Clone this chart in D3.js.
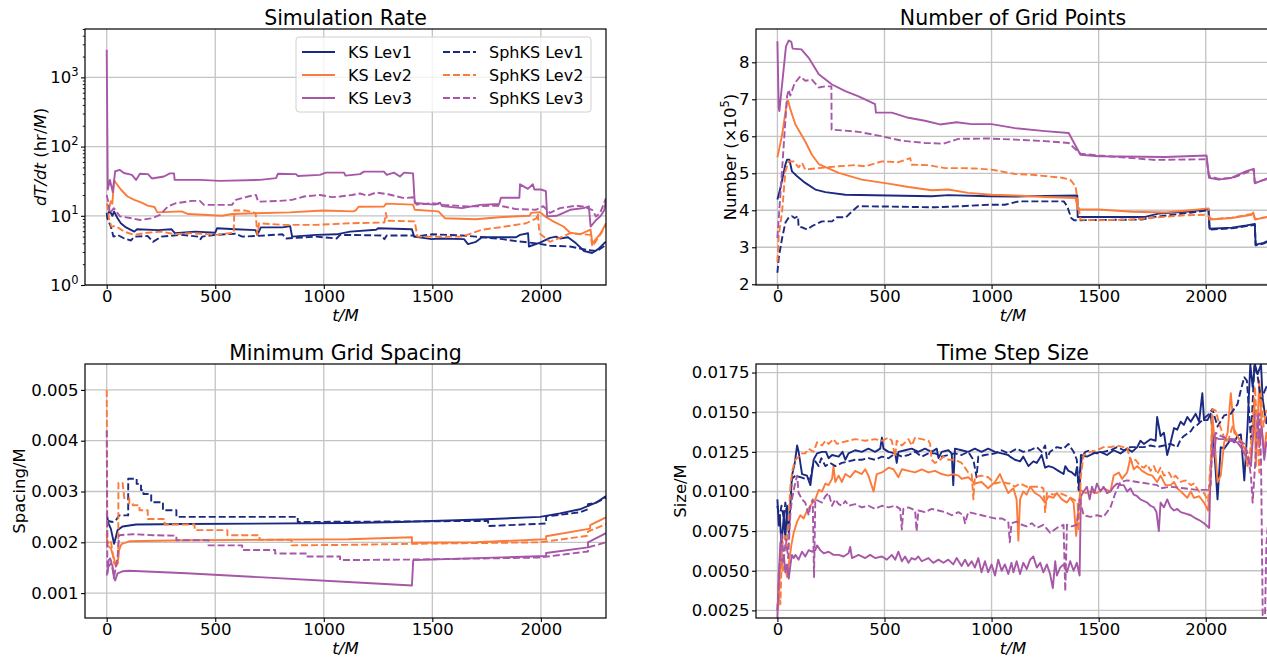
<!DOCTYPE html>
<html>
<head>
<meta charset="utf-8">
<script src="https://cdn.jsdelivr.net/npm/d3@7"></script>
<style>
  body { margin: 0; background: #ffffff; }
  svg { display: block; font-family: "DejaVu Sans", sans-serif; }
</style>
</head>
<body>
<div id="chart-container"></div>
<script>
// Series names (legend order) and colours per level
const seriesNames = ["KS Lev1", "KS Lev2", "KS Lev3", "SphKS Lev1", "SphKS Lev2", "SphKS Lev3"];
const levelColors = ["#1b2a80", "#fc7b3b", "#a757a7"];

// Tick values
const xTicks = [0, 500, 1000, 1500, 2000];
const rateTicks = [1, 10, 100, 1000];
const rateMinorTicks = [2, 3, 4, 5, 6, 7, 8, 9, 20, 30, 40, 50, 60, 70, 80, 90,
  200, 300, 400, 500, 600, 700, 800, 900, 2000, 3000, 4000, 5000];
const gridTicks = [2, 3, 4, 5, 6, 7, 8];
const spacingTicks = [0.001, 0.002, 0.003, 0.004, 0.005];
const stepTicks = [0.0025, 0.005, 0.0075, 0.01, 0.0125, 0.015, 0.0175];

// ---- Simulation Rate (hr/M) ----
const rateKS1 = [[0,10],[3,10],[11,11.5],[19,11],[26,10],[34,11.5],[50,9.2],[65,7.8],[89,6.8],[127,5.9],[140,6.4],[236,6.2],[298,6.4],[314,5.6],[407,5.9],[500,5.7],[508,6.6],[593,6.4],[686,6.2],[694,5.3],[710,6.8],[810,6.8],[845,7.1],[854,5],[966,5.3],[1059,5.4],[1121,5.9],[1241,6.3],[1250,6.6],[1406,6.4],[1416,5],[1497,4.6],[1535,4.7],[1646,4.6],[1664,3.9],[1701,4.2],[1729,4.9],[1886,4.9],[1904,5.3],[1941,5.6],[1945,3.6],[1996,4.1],[2042,4.8],[2070,5],[2088,4.7],[2125,4.9],[2162,4],[2199,3.1],[2236,2.9],[2264,3.3],[2291,4],[2300,4.2]];
const rateKS2 = [[0,15],[3,14.5],[11,12.9],[19,16.2],[26,15],[34,33],[42,30],[65,24],[96,19],[127,17],[158,15.6],[189,14],[220,13.4],[233,11.2],[345,11.6],[376,10.6],[531,10],[578,10.6],[686,10.9],[842,11.2],[997,11.9],[1137,11.6],[1150,12.2],[1160,13.5],[1277,13.6],[1287,15],[1411,14.5],[1419,12.2],[1528,11.6],[1559,9.2],[1699,8.9],[1824,9.6],[1948,10],[1955,11],[1996,11.3],[2023,9.6],[2057,8.3],[2104,7],[2135,5.7],[2180,5.4],[2229,6.3],[2237,4],[2276,5.6],[2300,7.8]];
const rateKS3 = [[0,2500],[5,24],[15,33],[28,22],[39,44],[61,46],[79,41.5],[116,39],[135,33],[153,40.5],[190,40],[208,34.6],[264,37],[291,41],[310,41],[313,33],[429,33],[522,32],[706,33],[780,35],[789,40.5],[872,40],[881,37.5],[982,39],[1010,42],[1093,42],[1100,38],[1167,40],[1185,43.5],[1277,43.5],[1290,39],[1323,42],[1351,37],[1370,42],[1411,41],[1419,15.3],[1512,14.5],[1535,15.5],[1545,13.8],[1637,12.9],[1720,14.4],[1808,14.8],[1816,18.2],[1901,18.2],[1904,28.5],[1940,24.5],[1963,28.5],[1970,24],[2000,24],[2023,22.7],[2029,9.8],[2073,10],[2135,12.2],[2197,12.9],[2221,13.7],[2229,7],[2252,8.5],[2276,10],[2292,12],[2300,17]];
const rateSph1 = [[0,11],[3,9.2],[19,7],[31,5],[50,5.3],[81,4.7],[112,4.4],[127,5],[189,5.1],[213,4.2],[252,5],[345,5.3],[422,5],[432,4.6],[440,5],[500,5.3],[593,5.5],[624,5],[686,5.1],[810,5.4],[826,4.7],[966,5],[1059,4.7],[1075,5.3],[1264,5.2],[1279,4.6],[1290,5.2],[1411,5.2],[1420,5],[1500,5.4],[1637,5.2],[1700,5],[1824,4.6],[1886,4.3],[1980,4],[2042,3.7],[2135,3.6],[2213,3.2],[2260,3.1],[2300,3.8]];
const rateSph2 = [[0,14],[3,14.5],[11,8.7],[22,7],[42,7.1],[81,5.9],[127,5.3],[189,5.7],[252,5.9],[314,5.4],[376,5.6],[438,5.5],[500,5.3],[585,5.7],[588,12],[640,11.9],[686,11],[694,5.3],[702,7.8],[810,7.4],[966,7.4],[1121,7.8],[1279,8],[1286,11],[1292,8.5],[1419,8.3],[1431,5],[1637,5],[1730,6.3],[1824,6.9],[1933,7.8],[1980,9.2],[1986,10.9],[1993,5.6],[2042,4.2],[2135,5.6],[2229,5.3],[2237,3.6],[2276,5.5],[2300,7.4]];
const rateSph3 = [[0,20],[5,17],[15,10.9],[33,12.9],[61,9.8],[116,9.2],[153,8.7],[208,9.2],[245,10.3],[282,13.6],[319,15.2],[393,16.4],[429,16.4],[448,14.4],[577,14.4],[595,17],[651,19],[688,20],[697,16],[798,16.4],[853,17],[909,19],[982,20],[1038,18.6],[1075,19],[1130,20],[1167,21],[1201,19.5],[1241,21.7],[1296,20.5],[1370,18],[1411,18.5],[1427,14.5],[1499,15.2],[1554,14.4],[1637,13.8],[1664,13.6],[1794,14],[1830,13.6],[1886,12.5],[1977,12.2],[2011,13.8],[2042,11],[2088,12.9],[2162,14],[2197,13.5],[2236,12.2],[2254,9.8],[2273,11],[2300,18]];

// ---- Number of Grid Points (x 1e5) ----
const gridKS1 = [[0,4.29],[14,4.6],[37,5.23],[45,5.37],[56,5.37],[68,5.05],[92,4.92],[130,4.74],[177,4.56],[224,4.49],[317,4.42],[519,4.4],[720,4.38],[798,4.41],[985,4.38],[1109,4.37],[1250,4.39],[1400,4.4],[1402,3.82],[1717,3.82],[1779,3.91],[1935,3.97],[2013,4.03],[2018,3.5],[2122,3.53],[2190,3.59],[2229,3.63],[2233,3.07],[2270,3.12],[2300,3.2]];
const gridKS2 = [[0,5.43],[22,6.04],[45,6.95],[50,6.96],[61,6.72],[84,6.32],[130,5.86],[161,5.5],[193,5.25],[286,5.01],[394,4.83],[519,4.72],[612,4.63],[720,4.54],[798,4.56],[891,4.47],[1000,4.42],[1109,4.4],[1250,4.36],[1392,4.33],[1403,4.02],[1500,4.02],[1655,3.96],[1811,3.94],[1966,4.02],[2013,4.05],[2018,3.75],[2122,3.79],[2215,3.88],[2222,3.94],[2230,3.75],[2300,3.83]];
const gridKS3 = [[0,8.57],[6,6.77],[9,6.68],[40,8.43],[53,8.59],[65,8.55],[71,8.37],[112,8.35],[146,8.12],[193,7.68],[255,7.4],[317,7.22],[379,7.08],[456,6.87],[460,6.64],[534,6.64],[612,6.5],[689,6.42],[759,6.32],[837,6.38],[907,6.33],[1000,6.33],[1109,6.22],[1250,6.14],[1360,6.09],[1415,5.5],[1500,5.46],[1811,5.44],[2004,5.48],[2015,4.88],[2060,4.83],[2122,4.88],[2190,5.06],[2224,5.12],[2229,4.73],[2287,4.86],[2300,4.9]];
const gridSph1 = [[0,2.31],[6,2.71],[22,3.25],[37,3.66],[53,3.81],[68,3.84],[81,3.79],[96,3.84],[99,3.55],[115,3.54],[138,3.48],[161,3.57],[208,3.7],[255,3.7],[278,3.81],[320,3.81],[348,3.97],[376,4.11],[519,4.1],[736,4.08],[860,4.11],[985,4.15],[1062,4.15],[1127,4.24],[1337,4.24],[1353,4.11],[1372,3.79],[1385,3.73],[1701,3.75],[1763,3.82],[1935,3.94],[2013,4],[2018,3.48],[2122,3.51],[2190,3.57],[2229,3.61],[2233,3.05],[2270,3.1],[2300,3.18]];
const gridSph2 = [[0,2.6],[6,3.3],[22,3.97],[37,5.05],[53,5.32],[76,5.32],[99,5.16],[115,5.28],[130,5.1],[193,5.14],[286,5.19],[363,5.22],[410,5.19],[488,5.32],[565,5.3],[620,5.41],[627,5.23],[705,5.22],[783,5.14],[860,5.14],[922,5.13],[1000,5.1],[1109,4.98],[1188,4.96],[1328,4.88],[1367,4.83],[1392,4.65],[1415,3.75],[1500,3.73],[1655,3.75],[1888,3.86],[2004,3.88],[2029,3.76],[2122,3.8],[2215,3.9],[2222,3.93],[2230,3.76],[2300,3.83]];
const gridSph3 = [[0,3.25],[45,7.08],[53,7.26],[60,7.1],[81,7.44],[107,7.62],[130,7.5],[161,7.53],[193,7.32],[224,7.35],[252,7.35],[253,6.18],[301,6.16],[379,6.12],[488,6],[581,5.88],[689,5.82],[775,5.8],[845,5.93],[985,5.94],[1109,5.91],[1250,5.87],[1360,5.82],[1415,5.53],[1500,5.48],[1765,5.36],[2004,5.38],[2015,4.93],[2060,4.85],[2122,4.87],[2190,5.02],[2224,5.1],[2229,4.75],[2287,4.84],[2300,4.88]];

// ---- Minimum Grid Spacing (M) ----
const spaceKS1 = [[0,0.00256],[8,0.00237],[19,0.00227],[34,0.00197],[42,0.0021],[50,0.00224],[73,0.00231],[135,0.00235],[368,0.00236],[1113,0.00238],[1351,0.0024],[1720,0.00245],[1996,0.0025],[2088,0.00257],[2180,0.00265],[2254,0.00278],[2300,0.00291]];
const spaceKS2 = [[0,0.00217],[3,0.00194],[19,0.00188],[34,0.00168],[42,0.00152],[50,0.00158],[57,0.00184],[65,0.00194],[70,0.00197],[104,0.00202],[368,0.00204],[1113,0.00206],[1406,0.0021],[1406,0.00199],[1700,0.002],[2024,0.00206],[2024,0.00212],[2227,0.00227],[2227,0.00234],[2300,0.00249]];
const spaceKS3 = [[0,0.00135],[8,0.00152],[19,0.00158],[26,0.00155],[34,0.00129],[39,0.00125],[50,0.00139],[73,0.00143],[104,0.00144],[368,0.00139],[1113,0.00122],[1406,0.00115],[1412,0.00165],[2024,0.00173],[2024,0.00179],[2217,0.0019],[2217,0.002],[2300,0.00218]];
const spaceSph1 = [[0,0.00243],[26,0.0024],[42,0.00243],[57,0.00253],[99,0.00253],[99,0.00325],[138,0.00325],[138,0.00315],[158,0.00315],[158,0.00303],[169,0.00303],[169,0.00295],[205,0.00295],[205,0.00279],[259,0.00279],[259,0.00263],[321,0.00263],[321,0.0025],[880,0.0025],[880,0.0024],[1757,0.00242],[1757,0.00232],[2024,0.00237],[2024,0.00251],[2180,0.00259],[2217,0.00265],[2217,0.00275],[2254,0.00278],[2300,0.00288]];
const spaceSph2 = [[0,0.005],[3,0.00197],[19,0.00204],[34,0.00158],[53,0.0016],[54,0.00317],[73,0.00317],[81,0.00287],[104,0.00287],[104,0.00276],[120,0.00276],[120,0.00273],[151,0.00273],[151,0.00263],[189,0.00263],[189,0.00246],[267,0.00246],[267,0.00235],[405,0.00235],[405,0.00224],[556,0.00224],[556,0.00214],[704,0.00214],[704,0.00205],[851,0.00205],[851,0.00194],[1113,0.00195],[1406,0.00197],[1996,0.002],[2217,0.00213],[2217,0.00221],[2300,0.00236]];
const spaceSph3 = [[0,0.0042],[3,0.00139],[11,0.00171],[19,0.00165],[34,0.00132],[50,0.00171],[57,0.00214],[120,0.00216],[213,0.00214],[321,0.00213],[321,0.00204],[469,0.00204],[469,0.00194],[624,0.00194],[624,0.00185],[776,0.00185],[776,0.00178],[925,0.00178],[925,0.00172],[1075,0.00172],[1075,0.00165],[1406,0.00166],[1996,0.0017],[2217,0.00182],[2217,0.0019],[2300,0.002]];

// ---- Time Step Size (M) ----
const stepKS1 = [[0,0.0095],[6,0.00785],[11,0.0085],[19,0.0066],[30,0.0085],[37,0.007],[45,0.0091],[53,0.0074],[61,0.0093],[68,0.011],[81,0.0118],[92,0.0129],[99,0.0125],[115,0.0111],[138,0.011],[154,0.0104],[169,0.012],[185,0.0124],[208,0.0125],[227,0.0125],[239,0.0121],[255,0.0123],[286,0.0122],[304,0.0125],[317,0.012],[332,0.0124],[363,0.0126],[394,0.0125],[425,0.0127],[456,0.0125],[480,0.0127],[488,0.0134],[495,0.0127],[519,0.0125],[550,0.0124],[557,0.0118],[565,0.0125],[596,0.0126],[627,0.0127],[658,0.0125],[689,0.0127],[720,0.0125],[744,0.0127],[752,0.0121],[767,0.0125],[798,0.0126],[814,0.0124],[821,0.0104],[829,0.0127],[860,0.0126],[891,0.0125],[922,0.0127],[953,0.0125],[984,0.0127],[1016,0.0125],[1047,0.0124],[1078,0.0123],[1086,0.0122],[1109,0.012],[1133,0.0119],[1148,0.0122],[1172,0.0116],[1195,0.0119],[1211,0.0118],[1234,0.0123],[1250,0.0115],[1266,0.0116],[1289,0.0115],[1312,0.0113],[1336,0.0111],[1344,0.0116],[1359,0.0113],[1375,0.0112],[1391,0.011],[1398,0.0115],[1411,0.01],[1417,0.0123],[1445,0.0122],[1477,0.0124],[1508,0.0125],[1539,0.0123],[1570,0.0126],[1602,0.0124],[1633,0.0127],[1656,0.0125],[1680,0.0128],[1695,0.0132],[1711,0.013],[1742,0.0133],[1766,0.0132],[1773,0.0147],[1789,0.0135],[1805,0.0137],[1820,0.0123],[1836,0.0131],[1852,0.014],[1867,0.0139],[1883,0.0144],[1898,0.0142],[1914,0.0147],[1930,0.0144],[1953,0.0149],[1969,0.0144],[1984,0.0162],[1992,0.0145],[2008,0.0145],[2023,0.0149],[2039,0.0128],[2055,0.0095],[2070,0.0128],[2086,0.0127],[2102,0.013],[2117,0.0133],[2133,0.0131],[2148,0.0135],[2164,0.0136],[2180,0.0107],[2195,0.0141],[2208,0.018],[2219,0.0166],[2230,0.018],[2242,0.0174],[2258,0.018],[2266,0.0158],[2283,0.0143],[2300,0.0155]];
const stepKS2 = [[0,0.0025],[6,0.0029],[14,0.0058],[25,0.005],[34,0.0054],[45,0.0046],[53,0.0054],[65,0.0066],[76,0.0074],[92,0.0081],[107,0.0085],[123,0.0083],[138,0.0088],[154,0.0091],[177,0.0095],[193,0.0101],[208,0.01],[224,0.0105],[239,0.0104],[255,0.0108],[262,0.0116],[270,0.0106],[286,0.011],[301,0.0106],[317,0.0111],[340,0.0109],[363,0.0113],[394,0.0111],[410,0.0114],[425,0.011],[449,0.01],[464,0.0111],[488,0.0112],[519,0.0115],[542,0.0114],[565,0.0109],[581,0.0114],[612,0.0113],[643,0.0112],[674,0.0114],[705,0.0112],[736,0.0113],[767,0.0111],[798,0.011],[821,0.0111],[845,0.011],[860,0.0108],[891,0.0109],[922,0.0105],[953,0.0106],[984,0.0102],[1016,0.0106],[1039,0.0111],[1054,0.0106],[1078,0.0099],[1102,0.0102],[1117,0.0095],[1125,0.0069],[1133,0.0095],[1148,0.01],[1164,0.0098],[1180,0.0103],[1203,0.0099],[1227,0.0097],[1250,0.0093],[1266,0.0097],[1289,0.0096],[1305,0.0099],[1328,0.0095],[1352,0.0093],[1367,0.0096],[1383,0.0093],[1395,0.0072],[1402,0.0085],[1414,0.0101],[1438,0.0099],[1461,0.01],[1492,0.0099],[1523,0.0102],[1555,0.01],[1570,0.011],[1594,0.0112],[1609,0.0108],[1633,0.0112],[1648,0.0121],[1664,0.0114],[1680,0.0116],[1703,0.0113],[1727,0.0111],[1750,0.011],[1773,0.0106],[1789,0.011],[1812,0.0104],[1836,0.0104],[1852,0.0106],[1867,0.0102],[1891,0.0099],[1914,0.0096],[1930,0.01],[1945,0.0096],[1969,0.0097],[1992,0.0093],[2011,0.0088],[2023,0.0108],[2031,0.0148],[2042,0.0131],[2055,0.0106],[2070,0.011],[2086,0.0131],[2102,0.0137],[2117,0.0162],[2133,0.0137],[2148,0.0135],[2164,0.0131],[2180,0.0127],[2195,0.0116],[2211,0.0122],[2227,0.0158],[2234,0.0116],[2250,0.017],[2261,0.0141],[2273,0.0124],[2283,0.0137],[2300,0.0128]];
const stepKS3 = [[0,0.002],[6,0.0047],[14,0.0068],[22,0.0054],[30,0.006],[37,0.0049],[45,0.0054],[53,0.0045],[61,0.0054],[68,0.006],[76,0.0058],[84,0.006],[99,0.0057],[115,0.0062],[130,0.0059],[146,0.0063],[161,0.0062],[177,0.0063],[185,0.0066],[200,0.0063],[216,0.0061],[239,0.0062],[262,0.006],[286,0.006],[309,0.0059],[332,0.0061],[340,0.0065],[348,0.0058],[379,0.006],[410,0.0058],[433,0.006],[456,0.0058],[488,0.0059],[511,0.0057],[534,0.006],[550,0.0057],[565,0.0062],[581,0.0056],[596,0.0059],[612,0.0055],[627,0.0058],[643,0.0057],[658,0.0059],[674,0.0056],[705,0.0058],[728,0.0055],[752,0.0057],[775,0.0055],[798,0.0057],[821,0.0054],[837,0.0058],[860,0.0053],[876,0.0057],[891,0.0053],[907,0.0056],[922,0.0052],[938,0.0058],[953,0.0049],[969,0.0056],[984,0.0049],[1000,0.0054],[1016,0.0047],[1031,0.0057],[1047,0.005],[1062,0.0054],[1078,0.0048],[1093,0.0055],[1102,0.0049],[1117,0.0056],[1133,0.0048],[1148,0.0055],[1164,0.0051],[1180,0.0057],[1195,0.0059],[1211,0.0052],[1227,0.0055],[1242,0.0049],[1258,0.0054],[1273,0.0048],[1286,0.0039],[1297,0.0056],[1305,0.0047],[1320,0.0052],[1336,0.0054],[1352,0.0049],[1367,0.0056],[1383,0.005],[1398,0.0055],[1411,0.0047],[1417,0.0097],[1430,0.01],[1445,0.0103],[1458,0.0095],[1469,0.0103],[1480,0.0099],[1492,0.0105],[1508,0.01],[1523,0.0103],[1539,0.0099],[1555,0.01],[1570,0.0103],[1586,0.0105],[1602,0.0104],[1617,0.0104],[1633,0.01],[1648,0.0102],[1664,0.0098],[1680,0.0097],[1695,0.0095],[1711,0.0094],[1727,0.0093],[1742,0.0091],[1758,0.009],[1770,0.0087],[1781,0.0075],[1789,0.0093],[1805,0.009],[1820,0.0095],[1836,0.009],[1852,0.0088],[1867,0.0089],[1883,0.0087],[1906,0.0086],[1930,0.0085],[1953,0.0083],[1969,0.0082],[1992,0.008],[2008,0.0078],[2016,0.0077],[2023,0.0114],[2031,0.0128],[2039,0.0122],[2047,0.0134],[2062,0.0133],[2086,0.0133],[2117,0.0132],[2148,0.0131],[2164,0.0128],[2180,0.0124],[2195,0.0121],[2211,0.0116],[2219,0.0131],[2230,0.0151],[2242,0.0147],[2250,0.0128],[2261,0.0141],[2273,0.012],[2283,0.0131],[2300,0.0125]];
const stepSph1 = [[0,0.0091],[9,0.0083],[19,0.0091],[30,0.0083],[37,0.0093],[45,0.0085],[53,0.0076],[61,0.0099],[68,0.0108],[84,0.011],[107,0.0109],[130,0.0108],[154,0.0108],[165,0.0116],[177,0.0119],[193,0.0116],[205,0.0121],[224,0.0116],[247,0.0118],[270,0.0116],[301,0.0118],[332,0.0119],[363,0.012],[394,0.012],[425,0.0121],[456,0.012],[488,0.0122],[519,0.0121],[550,0.0124],[581,0.0122],[612,0.0123],[643,0.0125],[674,0.0122],[705,0.0124],[736,0.0124],[767,0.0122],[798,0.0123],[829,0.0124],[860,0.0123],[891,0.0125],[915,0.012],[930,0.0109],[938,0.0122],[969,0.0123],[1016,0.0124],[1047,0.0126],[1078,0.0124],[1117,0.0127],[1148,0.0125],[1180,0.0126],[1211,0.0128],[1234,0.0125],[1250,0.0129],[1258,0.0121],[1273,0.0125],[1305,0.0128],[1336,0.0127],[1359,0.013],[1383,0.0125],[1398,0.012],[1406,0.0101],[1414,0.0114],[1422,0.0122],[1438,0.0125],[1461,0.0126],[1492,0.0124],[1523,0.0125],[1555,0.0126],[1586,0.0128],[1617,0.0126],[1648,0.0128],[1680,0.0128],[1711,0.0128],[1742,0.0129],[1773,0.0128],[1805,0.0129],[1836,0.013],[1867,0.0128],[1883,0.0133],[1898,0.0135],[1930,0.0138],[1945,0.0141],[1961,0.0142],[1992,0.0146],[2016,0.0149],[2031,0.0152],[2055,0.0141],[2086,0.0148],[2117,0.0149],[2148,0.0155],[2164,0.0164],[2180,0.0172],[2192,0.017],[2211,0.0133],[2227,0.018],[2242,0.0173],[2258,0.0158],[2283,0.0166],[2300,0.016]];
const stepSph2 = [[0,0.0025],[6,0.0041],[14,0.0029],[22,0.0066],[34,0.0072],[45,0.0062],[53,0.0085],[61,0.0104],[71,0.0114],[84,0.012],[99,0.0122],[115,0.0124],[130,0.0124],[146,0.0127],[169,0.0125],[185,0.0131],[208,0.0129],[224,0.0132],[239,0.013],[262,0.0133],[278,0.013],[301,0.0131],[332,0.0132],[363,0.0133],[410,0.0132],[456,0.0133],[488,0.0132],[519,0.0134],[534,0.0132],[550,0.0122],[557,0.0132],[581,0.0129],[612,0.0133],[627,0.0129],[643,0.0134],[674,0.0133],[705,0.0132],[713,0.013],[720,0.012],[736,0.0118],[752,0.0119],[775,0.0122],[798,0.012],[829,0.012],[860,0.0118],[891,0.0112],[907,0.0111],[915,0.0095],[922,0.0109],[953,0.011],[984,0.0109],[1016,0.0105],[1047,0.0106],[1078,0.0105],[1086,0.0105],[1109,0.0103],[1133,0.0105],[1164,0.0103],[1195,0.0103],[1227,0.0103],[1242,0.0102],[1250,0.0087],[1258,0.0099],[1289,0.0098],[1320,0.0099],[1352,0.0097],[1383,0.0095],[1402,0.0093],[1406,0.0075],[1417,0.011],[1430,0.0123],[1461,0.0125],[1492,0.0126],[1523,0.0128],[1555,0.0128],[1586,0.0129],[1617,0.0128],[1633,0.0128],[1641,0.0123],[1656,0.0118],[1672,0.012],[1695,0.0116],[1711,0.0115],[1727,0.0117],[1742,0.0113],[1758,0.0116],[1773,0.0111],[1789,0.0115],[1805,0.011],[1828,0.0112],[1844,0.0108],[1859,0.011],[1883,0.0106],[1906,0.0107],[1930,0.0104],[1945,0.0105],[1969,0.01],[1992,0.0099],[2011,0.0094],[2023,0.012],[2031,0.0152],[2047,0.0151],[2062,0.0143],[2078,0.0137],[2094,0.0131],[2109,0.0134],[2125,0.0141],[2141,0.0137],[2156,0.0133],[2172,0.0131],[2188,0.0127],[2203,0.012],[2219,0.0141],[2230,0.0166],[2239,0.0141],[2250,0.0112],[2258,0.0162],[2270,0.0141],[2283,0.0151],[2300,0.0146]];
const stepSph3 = [[0,0.0025],[9,0.005],[19,0.0074],[30,0.0058],[40,0.007],[50,0.0058],[61,0.0087],[68,0.0095],[81,0.0104],[92,0.011],[99,0.0099],[115,0.0095],[130,0.0093],[146,0.0085],[154,0.0091],[165,0.0095],[171,0.0046],[177,0.0095],[193,0.0094],[208,0.0093],[224,0.0097],[239,0.0099],[255,0.0091],[270,0.0095],[286,0.0092],[301,0.0091],[317,0.0094],[332,0.0091],[363,0.0092],[394,0.009],[425,0.0091],[456,0.0089],[488,0.0091],[519,0.009],[550,0.0091],[573,0.0089],[581,0.0076],[588,0.0089],[612,0.009],[643,0.0088],[650,0.0075],[658,0.0088],[689,0.0087],[720,0.0089],[752,0.0088],[783,0.0087],[814,0.0085],[845,0.0087],[868,0.0085],[876,0.008],[891,0.0087],[922,0.0086],[953,0.0085],[984,0.0084],[1016,0.0083],[1047,0.0083],[1078,0.0081],[1085,0.0068],[1093,0.008],[1117,0.0081],[1141,0.0079],[1164,0.0078],[1188,0.008],[1211,0.0077],[1242,0.0079],[1273,0.0074],[1305,0.0077],[1336,0.0079],[1344,0.0037],[1352,0.0079],[1375,0.0078],[1398,0.0079],[1411,0.0095],[1430,0.0085],[1461,0.0084],[1492,0.0085],[1523,0.0084],[1555,0.009],[1578,0.0099],[1602,0.0106],[1633,0.0107],[1680,0.0106],[1773,0.0104],[1789,0.0102],[1836,0.0103],[1898,0.0102],[1961,0.0101],[2008,0.0101],[2023,0.0104],[2031,0.0131],[2047,0.0137],[2070,0.0135],[2102,0.0133],[2133,0.0133],[2164,0.0131],[2180,0.013],[2195,0.0124],[2211,0.011],[2219,0.0093],[2230,0.0116],[2242,0.0145],[2250,0.0149],[2258,0.012],[2266,0.0022],[2277,0.0022],[2283,0.0066],[2300,0.0098]];

const width = 1267;
const height = 658;
const tickFont = 16.5;

const svg = d3
  .select("#chart-container")
  .append("svg")
  .attr("width", width)
  .attr("height", height);

// Builds a text element out of parts: [text, "italic" | "sup" | ""]
function richText(sel, parts, supSize) {
  parts.forEach(([txt, kind], i) => {
    const ts = sel.append("tspan").text(txt);
    if (kind === "italic") ts.attr("font-style", "italic");
    if (kind === "sup") ts.attr("font-size", supSize).attr("dy", -supSize * 0.62);
    if (i > 0 && parts[i - 1][1] === "sup") ts.attr("dy", supSize * 0.62);
  });
}

function drawPanel(cfg) {
  const { left, right, top, bottom } = cfg.box;
  const x = d3.scaleLinear().domain([-100, 2300]).range([left, right]);
  const y = cfg.yScale.range([bottom, top]);
  const g = svg.append("g");

  // clip area for the data lines
  svg
    .append("clipPath")
    .attr("id", "clip-" + cfg.id)
    .append("rect")
    .attr("x", left)
    .attr("y", top)
    .attr("width", right - left)
    .attr("height", bottom - top);

  // grid lines
  g.append("g")
    .selectAll("line")
    .data(xTicks)
    .join("line")
    .attr("x1", (d) => x(d))
    .attr("x2", (d) => x(d))
    .attr("y1", top)
    .attr("y2", bottom)
    .attr("stroke", "#c4c4c4")
    .attr("stroke-width", 1.3);
  g.append("g")
    .selectAll("line")
    .data(cfg.yTicks)
    .join("line")
    .attr("x1", left)
    .attr("x2", right)
    .attr("y1", (d) => y(d))
    .attr("y2", (d) => y(d))
    .attr("stroke", "#c4c4c4")
    .attr("stroke-width", 1.3);

  // data lines
  const line = d3
    .line()
    .x((d) => x(d[0]))
    .y((d) => y(d[1]));
  g.append("g")
    .attr("clip-path", `url(#clip-${cfg.id})`)
    .selectAll("path")
    .data(cfg.series)
    .join("path")
    .attr("d", (d) => line(d))
    .attr("fill", "none")
    .attr("stroke", (d, i) => levelColors[i % 3])
    .attr("stroke-width", 1.9)
    .attr("stroke-linejoin", "round")
    .attr("stroke-dasharray", (d, i) => (i >= 3 ? "7,3" : null));

  // spines
  g.append("rect")
    .attr("x", left)
    .attr("y", top)
    .attr("width", right - left)
    .attr("height", bottom - top)
    .attr("fill", "none")
    .attr("stroke", "#000")
    .attr("stroke-width", 1.2);

  // x axis
  const xAxisG = g
    .append("g")
    .attr("transform", `translate(0, ${bottom})`)
    .call(d3.axisBottom(x).tickValues(xTicks).tickSize(4).tickPadding(1).tickFormat(d3.format("d")));
  xAxisG.select(".domain").remove();

  // y axis
  const yAxisG = g
    .append("g")
    .attr("transform", `translate(${left}, 0)`)
    .call(d3.axisLeft(y).tickValues(cfg.yTicks).tickSize(4).tickPadding(2.5).tickFormat(cfg.yFormat));
  yAxisG.select(".domain").remove();
  if (cfg.minorTicks) {
    const minorG = g
      .append("g")
      .attr("transform", `translate(${left}, 0)`)
      .call(d3.axisLeft(y).tickValues(cfg.minorTicks).tickSize(2.2).tickFormat(""));
    minorG.select(".domain").remove();
    minorG.selectAll("line").attr("stroke-width", 0.9);
  }

  [xAxisG, yAxisG].forEach((a) => {
    a.selectAll("line").attr("stroke", "#000").attr("stroke-width", 1.1);
    a.selectAll("text")
      .attr("fill", "#000")
      .style("font-family", '"DejaVu Sans", sans-serif')
      .style("font-size", tickFont + "px");
  });

  // log tick labels: 10 with superscript exponent
  if (cfg.logLabels) {
    yAxisG.selectAll("text").each(function (d) {
      const t = d3.select(this).text("");
      richText(t, [["10", ""], [String(Math.round(Math.log10(d))), "sup"]], 11.5);
    });
  }

  // title
  svg
    .append("text")
    .attr("x", (left + right) / 2)
    .attr("y", top - 4)
    .attr("text-anchor", "middle")
    .style("font-size", "20.5px")
    .text(cfg.title);

  // x label
  const xl = svg
    .append("text")
    .attr("x", (left + right) / 2)
    .attr("y", bottom + 36)
    .attr("text-anchor", "middle")
    .style("font-size", tickFont + "px");
  richText(xl, [["t", "italic"], ["/", "italic"], ["M", "italic"]], 11.5);

  // y label
  const yl = svg
    .append("text")
    .attr("transform", `translate(${cfg.yLabelX}, ${(top + bottom) / 2}) rotate(-90)`)
    .attr("dy", "0.35em")
    .attr("text-anchor", "middle")
    .style("font-size", tickFont + "px");
  richText(yl, cfg.yLabel, 11.5);
}

const topLeft = { left: 85, right: 606, top: 29, bottom: 285 };
const topRight = { left: 756, right: 1270, top: 29, bottom: 285 };
const bottomLeft = { left: 85, right: 606, top: 364, bottom: 618 };
const bottomRight = { left: 756, right: 1270, top: 364, bottom: 618 };

drawPanel({
  id: "rate",
  box: topLeft,
  title: "Simulation Rate",
  yScale: d3.scaleLog().domain([1, 5000]),
  yTicks: rateTicks,
  minorTicks: rateMinorTicks,
  yFormat: (d) => d,
  logLabels: true,
  yLabelX: 40,
  yLabel: [["dT/dt", "italic"], [" (hr/", ""], ["M", "italic"], [")", ""]],
  series: [rateKS1, rateKS2, rateKS3, rateSph1, rateSph2, rateSph3],
});

drawPanel({
  id: "grid",
  box: topRight,
  title: "Number of Grid Points",
  yScale: d3.scaleLinear().domain([1.98, 8.9]),
  yTicks: gridTicks,
  yFormat: d3.format("d"),
  yLabelX: 730,
  yLabel: [["Number (\u00d710", ""], ["5", "sup"], [")", ""]],
  series: [gridKS1, gridKS2, gridKS3, gridSph1, gridSph2, gridSph3],
});

drawPanel({
  id: "spacing",
  box: bottomLeft,
  title: "Minimum Grid Spacing",
  yScale: d3.scaleLinear().domain([0.00051, 0.00551]),
  yTicks: spacingTicks,
  yFormat: d3.format(".3f"),
  yLabelX: 19,
  yLabel: [["Spacing/M", ""]],
  series: [spaceKS1, spaceKS2, spaceKS3, spaceSph1, spaceSph2, spaceSph3],
});

drawPanel({
  id: "step",
  box: bottomRight,
  title: "Time Step Size",
  yScale: d3.scaleLinear().domain([0.00202, 0.01804]),
  yTicks: stepTicks,
  yFormat: d3.format(".4f"),
  yLabelX: 680,
  yLabel: [["Size/M", ""]],
  series: [stepKS1, stepKS2, stepKS3, stepSph1, stepSph2, stepSph3],
});

// Legend in the first panel, two columns
const legend = svg.append("g");
legend
  .append("rect")
  .attr("x", 296)
  .attr("y", 37)
  .attr("width", 295)
  .attr("height", 75)
  .attr("rx", 3)
  .attr("fill", "#fff")
  .attr("fill-opacity", 0.8)
  .attr("stroke", "#d0d0d0");
const items = legend
  .selectAll("g.item")
  .data(seriesNames)
  .join("g")
  .attr("class", "item")
  .attr("transform", (d, i) => `translate(${302 + Math.floor(i / 3) * 141}, ${52 + (i % 3) * 23})`);
items
  .append("line")
  .attr("x1", 0)
  .attr("x2", 33)
  .attr("stroke", (d, i) => levelColors[i % 3])
  .attr("stroke-width", 1.9)
  .attr("stroke-dasharray", (d, i) => (i >= 3 ? "7,3" : null));
items
  .append("text")
  .attr("x", 46)
  .attr("dy", "0.36em")
  .style("font-size", "16px")
  .text((d) => d);
</script>
</body>
</html>
